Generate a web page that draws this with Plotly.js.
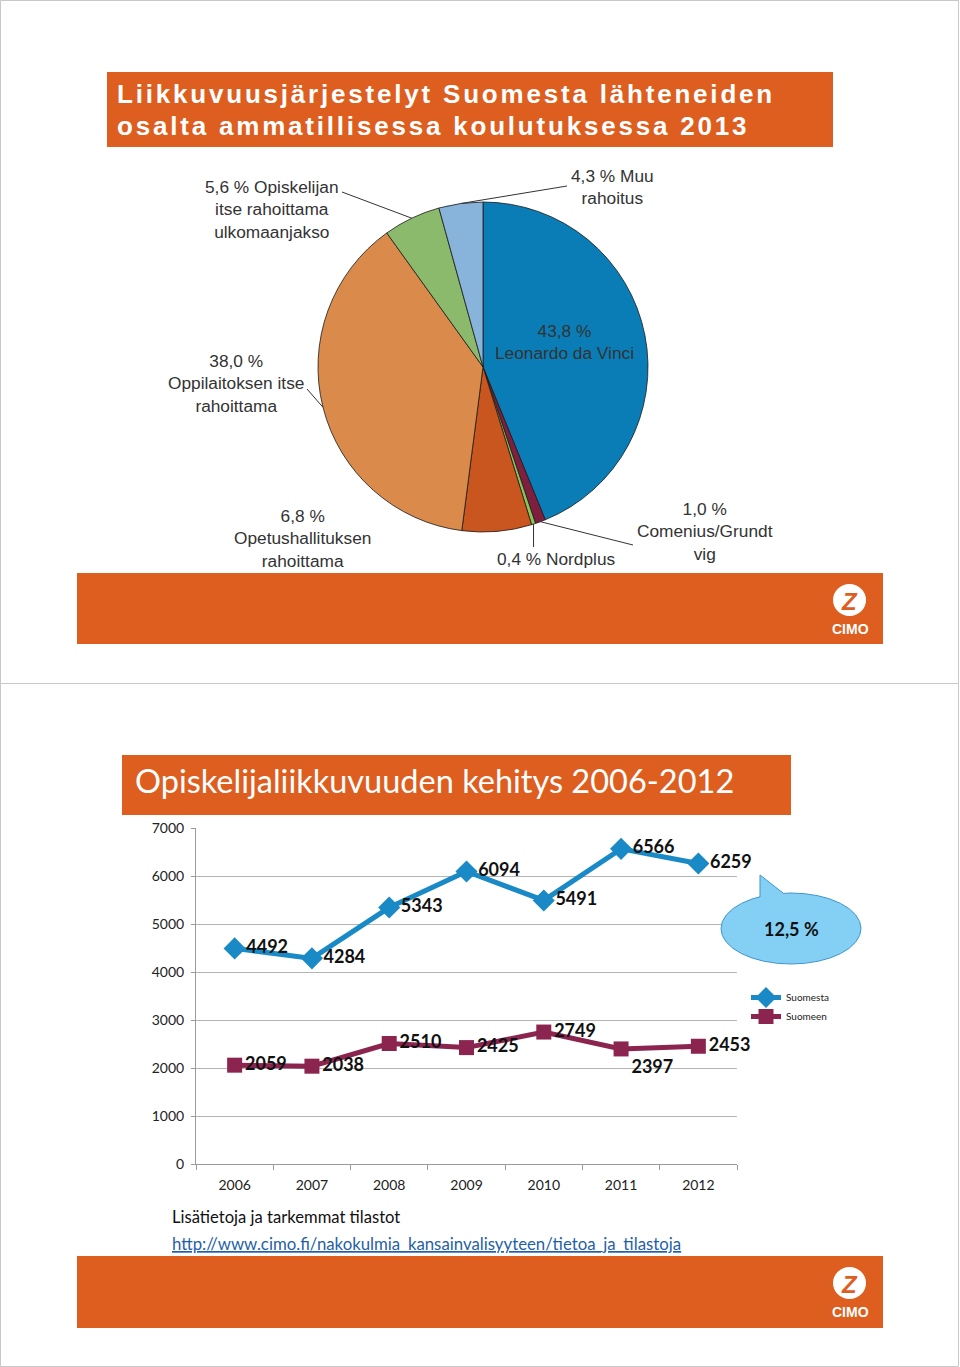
<!DOCTYPE html>
<html>
<head>
<meta charset="utf-8">
<script src="https://cdn.plot.ly/plotly-3.0.1.min.js"></script>
<style>
html,body{margin:0;padding:0;background:#fff;}
#chart{width:960px;height:1367px;}
</style>
</head>
<body>
<div id="chart"></div>
<script>
// ---------- DATA ----------
// Pie (2013 funding of outgoing mobility in vocational education)
const pieLabels = ['Leonardo da Vinci', 'Comenius/Grundtvig', 'Nordplus', 'Opetushallituksen rahoittama',
                   'Oppilaitoksen itse rahoittama', 'Opiskelijan itse rahoittama ulkomaanjakso', 'Muu rahoitus'];
const pieValues = [43.8, 1.0, 0.4, 6.8, 38.0, 5.6, 4.3];
const pieColors = ['#0A7DB6', '#7E1F40', '#8CC455', '#C9561F', '#DA8B4C', '#8CBA6C', '#88B3DA'];
// label text templates ({p} = percentage)
const pieLabelText = [
  '{p} %<br>Leonardo da Vinci',
  '{p} %<br>Comenius/Grundt<br>vig',
  '{p} % Nordplus',
  '{p} %<br>Opetushallituksen<br>rahoittama',
  '{p} %<br>Oppilaitoksen itse<br>rahoittama',
  '{p} % Opiskelijan<br>itse rahoittama<br>ulkomaanjakso',
  '{p} % Muu<br>rahoitus'
];

// Line chart (student mobility 2006-2012)
const years = ['2006', '2007', '2008', '2009', '2010', '2011', '2012'];
const suomesta = [4492, 4284, 5343, 6094, 5491, 6566, 6259];
const suomeen = [2059, 2038, 2510, 2425, 2749, 2397, 2453];
const seriesNames = ['Suomesta', 'Suomeen'];
const yTicks = [0, 1000, 2000, 3000, 4000, 5000, 6000, 7000];
const changeLabel = '12,5 %';

const title1a = 'Liikkuvuusjärjestelyt Suomesta lähteneiden';
const title1b = 'osalta ammatillisessa koulutuksessa 2013';
const title2 = 'Opiskelijaliikkuvuuden kehitys 2006-2012';
const infoText = 'Lisätietoja ja tarkemmat tilastot';
const linkText = 'http://www.cimo.fi/nakokulmia_kansainvalisyyteen/tietoa_ja_tilastoja';

// ---------- LAYOUT HELPERS ----------
const W = 960, H = 1367;
const PX = x => x / W;
const PY = y => 1 - y / H;
const ORANGE = '#DD5E1F';
const fmt = v => v.toFixed(1).replace('.', ',');

// pie geometry (pixels)
const pc = {x: 483, y: 367, r: 165};
const total = pieValues.reduce((a, b) => a + b, 0);
function sliceEdge(i) {
  let before = 0;
  for (let k = 0; k < i; k++) before += pieValues[k];
  const mid = (before + pieValues[i] / 2) / total * 2 * Math.PI;
  return {x: pc.x + pc.r * Math.sin(mid), y: pc.y - pc.r * Math.cos(mid)};
}

// label positions (pixel centres) and leader line starts
const labelPos = [
  {x: 564, y: 342, lead: null},
  {x: 705, y: 531, lead: {x: 633, y: 545}},
  {x: 556, y: 559, lead: 'down'},
  {x: 302, y: 538, lead: null},
  {x: 236, y: 383, lead: {x: 307, y: 389}},
  {x: 272, y: 209, lead: {x: 342, y: 192}},
  {x: 612, y: 187, lead: {x: 567, y: 186}}
];

const shapes = [];
const annotations = [];

// page frame
shapes.push({type: 'rect', xref: 'paper', yref: 'paper', x0: PX(0.5), x1: PX(958.5), y0: PY(0.5), y1: PY(1366.5),
  line: {color: '#C8C8C8', width: 1}, layer: 'below'});
shapes.push({type: 'line', xref: 'paper', yref: 'paper', x0: PX(0.5), x1: PX(958.5), y0: PY(683.5), y1: PY(683.5),
  line: {color: '#C8C8C8', width: 1}, layer: 'below'});

// orange boxes
function box(x0, y0, x1, y1) {
  shapes.push({type: 'rect', xref: 'paper', yref: 'paper', x0: PX(x0), x1: PX(x1), y0: PY(y1), y1: PY(y0),
    fillcolor: ORANGE, line: {width: 0}, layer: 'below'});
}
box(107, 72, 833, 147);
box(77, 573, 883, 644);
box(122, 755, 791, 815);
box(77, 1256, 883, 1328);

// CIMO logos
function logo(cy) {
  shapes.push({type: 'circle', xref: 'paper', yref: 'paper', x0: PX(833), x1: PX(866), y0: PY(cy + 16), y1: PY(cy - 16),
    fillcolor: '#FFFFFF', line: {width: 0}});
  annotations.push({xref: 'paper', yref: 'paper', x: PX(849), y: PY(cy + 1), text: '<b><i>Z</i></b>', showarrow: false,
    font: {family: 'Liberation Sans', size: 24, color: ORANGE}, xanchor: 'center', yanchor: 'middle'});
  annotations.push({xref: 'paper', yref: 'paper', x: PX(850), y: PY(cy + 29), text: '<b>CIMO</b>', showarrow: false,
    font: {family: 'Liberation Sans', size: 14, color: '#FFFFFF'}, xanchor: 'center', yanchor: 'middle'});
}
logo(600);
logo(1283);

// titles
annotations.push({xref: 'paper', yref: 'paper', x: PX(115), y: PY(94), text: '<b>' + title1a + '</b>', showarrow: false,
  xanchor: 'left', yanchor: 'middle', font: {family: 'Liberation Sans', size: 26, color: '#FFFFFF'}});
annotations.push({xref: 'paper', yref: 'paper', x: PX(115), y: PY(126), text: '<b>' + title1b + '</b>', showarrow: false,
  xanchor: 'left', yanchor: 'middle', font: {family: 'Liberation Sans', size: 26, color: '#FFFFFF'}});
annotations.push({xref: 'paper', yref: 'paper', x: PX(133), y: PY(781), text: title2, showarrow: false,
  xanchor: 'left', yanchor: 'middle', font: {family: 'Lato', size: 32.5, color: '#FFFFFF'}});

// pie labels and leader lines
pieValues.forEach((v, i) => {
  const p = labelPos[i];
  annotations.push({xref: 'paper', yref: 'paper', x: PX(p.x), y: PY(p.y), showarrow: false,
    text: pieLabelText[i].replace('{p}', fmt(v)), align: 'center', xanchor: 'center', yanchor: 'middle',
    font: {family: 'Liberation Sans', size: 17.3, color: '#333333'}});
  if (p.lead) {
    const e = sliceEdge(i);
    const s = p.lead === 'down' ? {x: e.x, y: 547} : p.lead;
    shapes.push({type: 'line', xref: 'paper', yref: 'paper', x0: PX(s.x), y0: PY(s.y), x1: PX(e.x), y1: PY(e.y),
      line: {color: '#333333', width: 1}});
  }
});

// speech bubble
shapes.push({type: 'circle', xref: 'paper', yref: 'paper', x0: PX(721), x1: PX(861), y0: PY(964), y1: PY(893),
  fillcolor: '#84D0F5', line: {color: '#3F95CB', width: 1}});
shapes.push({type: 'path', xref: 'paper', yref: 'paper',
  path: `M${PX(760)},${PY(875)} L${PX(760)},${PY(898)} L${PX(770)},${PY(902)} L${PX(784)},${PY(896)} L${PX(783)},${PY(893)} Z`,
  fillcolor: '#84D0F5', line: {width: 0}});
shapes.push({type: 'line', xref: 'paper', yref: 'paper', x0: PX(760), y0: PY(875), x1: PX(760), y1: PY(897),
  line: {color: '#3F95CB', width: 1}});
shapes.push({type: 'line', xref: 'paper', yref: 'paper', x0: PX(760), y0: PY(875), x1: PX(783), y1: PY(893),
  line: {color: '#3F95CB', width: 1}});
annotations.push({xref: 'paper', yref: 'paper', x: PX(791), y: PY(929), text: '<b>' + changeLabel + '</b>', showarrow: false,
  xanchor: 'center', yanchor: 'middle', font: {family: 'Lato', size: 18, color: '#111111'}});

// footer text
annotations.push({xref: 'paper', yref: 'paper', x: PX(170), y: PY(1217), text: infoText, showarrow: false,
  xanchor: 'left', yanchor: 'middle', font: {family: 'Lato', size: 16.6, color: '#111111'}});
annotations.push({xref: 'paper', yref: 'paper', x: PX(170), y: PY(1243), text: '<u>' + linkText + '</u>', showarrow: false,
  xanchor: 'left', yanchor: 'middle', font: {family: 'Lato', size: 16.8, color: '#1F5FA8'}});

// ---------- TRACES ----------
const traces = [
  {type: 'pie', values: pieValues, labels: pieLabels, sort: false, direction: 'clockwise', rotation: 0,
   textinfo: 'none', hoverinfo: 'label+percent', showlegend: false,
   marker: {colors: pieColors, line: {color: '#1A1A1A', width: 0.8}},
   domain: {x: [PX(pc.x - pc.r), PX(pc.x + pc.r)], y: [PY(pc.y + pc.r), PY(pc.y - pc.r)]}},
  {type: 'scatter', mode: 'lines+markers+text', name: seriesNames[0], x: years, y: suomesta,
   text: suomesta.map(String), textposition: 'middle right', cliponaxis: false,
   textfont: {family: 'Lato', size: 18, color: '#111111', weight: 'bold'},
   line: {color: '#1A8AC6', width: 5}, marker: {symbol: 'diamond', size: 17, color: '#1A8AC6'}},
  {type: 'scatter', mode: 'lines+markers+text', name: seriesNames[1], x: years, y: suomeen,
   text: suomeen.map(String), textposition: ['middle right', 'middle right', 'middle right', 'middle right', 'middle right', 'bottom right', 'middle right'],
   cliponaxis: false,
   textfont: {family: 'Lato', size: 18, color: '#111111', weight: 'bold'},
   line: {color: '#8C2450', width: 5}, marker: {symbol: 'square', size: 15, color: '#8C2450'}}
];

const layout = {
  width: W, height: H, margin: {l: 0, r: 0, t: 0, b: 0},
  paper_bgcolor: '#FFFFFF', plot_bgcolor: 'rgba(0,0,0,0)',
  font: {family: 'Lato', color: '#222222'},
  xaxis: {domain: [PX(196), PX(737)], type: 'category', range: [-0.5, 6.5], fixedrange: true,
    showline: true, linecolor: '#9A9A9A', linewidth: 1, ticks: 'outside', tickson: 'boundaries',
    ticklen: 5, tickcolor: '#9A9A9A', showgrid: false, ticklabelstandoff: 8,
    tickfont: {family: 'Lato', size: 14, color: '#222222'}},
  yaxis: {domain: [PY(1164), PY(828)], range: [0, 7000], tickvals: yTicks, fixedrange: true,
    showline: true, linecolor: '#9A9A9A', linewidth: 1, ticks: 'outside', ticklen: 4, tickcolor: '#9A9A9A',
    showgrid: true, gridcolor: '#B4B4B4', gridwidth: 1, zeroline: false, ticklabelstandoff: 4,
    tickfont: {family: 'Lato', size: 14, color: '#222222'}},
  showlegend: true,
  legend: {x: PX(746), y: PY(983), xanchor: 'left', yanchor: 'top', bgcolor: 'rgba(0,0,0,0)',
    font: {family: 'Lato', size: 10, color: '#222222'}, tracegroupgap: 0, itemwidth: 30},
  shapes: shapes,
  annotations: annotations
};

Plotly.newPlot('chart', traces, layout, {displayModeBar: false, staticPlot: true}).then(gd => {
  // widen the letter spacing of the first slide's title like in the original, keeping its left edge
  gd.querySelectorAll('.annotation-text').forEach(t => {
    const s = t.textContent;
    if (s === title1a || s === title1b) {
      const before = t.getBBox().x;
      t.style.letterSpacing = '2.8px';
      const after = t.getBBox().x;
      const prev = t.getAttribute('transform') || '';
      t.setAttribute('transform', prev + ' translate(' + (before - after) + ',0)');
    }
  });
});
</script>
</body>
</html>
